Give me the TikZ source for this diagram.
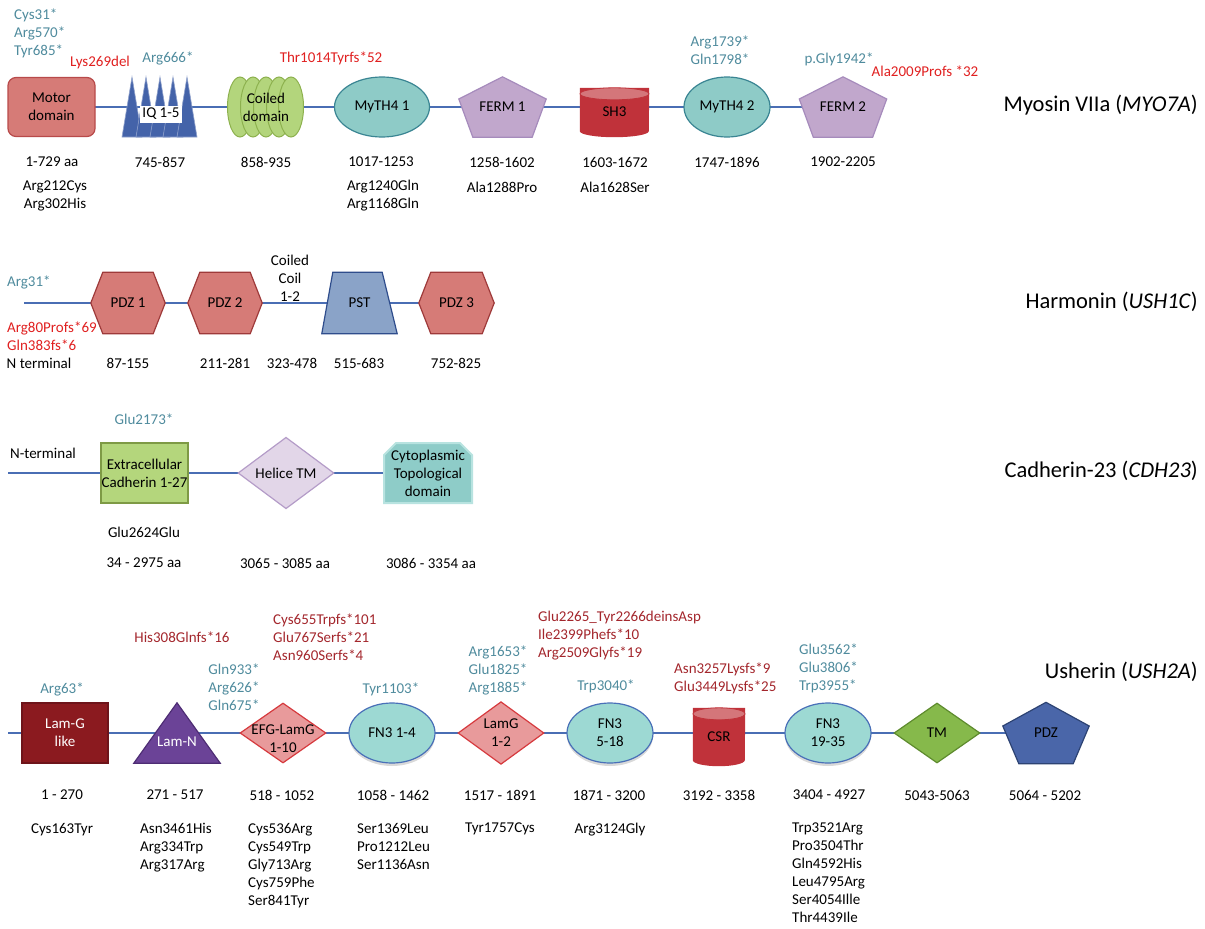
\documentclass[tikz,border=0pt]{standalone}
\usepackage{fontspec}
\setmainfont{Carlito}
\usetikzlibrary{shapes.geometric,shapes.misc,shadows}
\pgfdeclarelayer{background}
\pgfdeclarelayer{shape}
\pgfsetlayers{background,shape,main}
\definecolor{spinec}{HTML}{4A6EB4}
\definecolor{motorf}{HTML}{D67B77}
\definecolor{motord}{HTML}{B84A4A}
\definecolor{iqblue}{HTML}{4463A9}
\definecolor{coilf}{HTML}{B3D57C}
\definecolor{coild}{HTML}{8DB14E}
\definecolor{mythf}{HTML}{8ECBC7}
\definecolor{mythd}{HTML}{3A8593}
\definecolor{fermf}{HTML}{C1A7CC}
\definecolor{fermd}{HTML}{A68BBC}
\definecolor{cylf}{HTML}{C0323A}
\definecolor{cyltop}{HTML}{D4767A}
\definecolor{pdzf}{HTML}{D67B77}
\definecolor{pdzd}{HTML}{9E3A3A}
\definecolor{pstf}{HTML}{8AA3C8}
\definecolor{pstd}{HTML}{2F4D8C}
\definecolor{cadf}{HTML}{B4D67C}
\definecolor{cadd}{HTML}{7E9A45}
\definecolor{helixf}{HTML}{E2D6E8}
\definecolor{helixd}{HTML}{B49CC8}
\definecolor{cytof}{HTML}{8ECCC8}
\definecolor{cytod}{HTML}{B8E3E0}
\definecolor{lamgf}{HTML}{8B1A1F}
\definecolor{lamgd}{HTML}{6E141A}
\definecolor{lamnf}{HTML}{6B4397}
\definecolor{lamnd}{HTML}{4E2D74}
\definecolor{efgf}{HTML}{E89A9B}
\definecolor{efgd}{HTML}{D63A3E}
\definecolor{fnf}{HTML}{9DD9D3}
\definecolor{fnd}{HTML}{4A70B8}
\definecolor{tmf}{HTML}{86B94B}
\definecolor{tmd}{HTML}{5E8B2E}
\definecolor{pdzbf}{HTML}{4A66A9}
\definecolor{pdzbd}{HTML}{2D4373}
\definecolor{nonsc}{HTML}{4F8B9D}
\definecolor{fsredc}{HTML}{E02020}
\definecolor{fsdarkc}{HTML}{A3262C}
\tikzset{
  every node/.style={font=\fontsize{15}{18}\selectfont, inner sep=0pt},
  spine/.style={draw=spinec, line width=2.2pt},
  dom/.style={line width=1.2pt},
  blank/.style 2 args={minimum width=#1, minimum height=#2},
  nons/.style={text=nonsc},
  fsr/.style={text=fsredc},
  fsd/.style={text=fsdarkc},
  gene/.style={font=\fontsize{22.5}{27}\selectfont, anchor=east},
  fn3/.style={dom, ellipse, draw=fnd, fill=fnf, minimum width=86pt, minimum height=60pt, align=center,
    drop shadow={opacity=.3, shadow xshift=0pt, shadow yshift=-3pt}},
  lamdiam/.style={dom, diamond, draw=efgd, fill=efgf, minimum width=86pt, minimum height=60pt, align=center}
}
\begin{document}
\begin{tikzpicture}[x=1pt, y=-1pt]
\useasboundingbox (0,0) rectangle (1205,929);

\node[dom, rounded corners=8pt, draw=motord, fill=motorf, minimum width=87pt, minimum height=59pt, align=center] (motor) at (51.5,107) {Motor\\domain};
\node[blank={74pt}{60pt}] (iq) at (160,107) {};
\node[fill=white, minimum width=42pt, minimum height=17pt] (iqt) at (161,114) {IQ 1-5};
\node[blank={76pt}{60pt}, align=center] (coil) at (266,107) {Coiled\\domain};
\node[dom, ellipse, draw=mythd, fill=mythf, minimum width=95pt, minimum height=60pt] (myth1) at (382,107) {MyTH4 1};
\node[blank={87pt}{60pt}] (ferm1) at (502.5,107) {FERM 1};
\node[blank={69pt}{60pt}] (sh3) at (614.5,107) {};
\node (sh3t) at (614.5,112) {SH3};
\node[dom, ellipse, draw=mythd, fill=mythf, minimum width=86pt, minimum height=60pt] (myth2) at (727,107) {MyTH4 2};
\node[blank={87pt}{60pt}] (ferm2) at (843,107) {FERM 2};

\node[nons, anchor=west, align=left] (m1a) at (14,33) {Cys31*\\Arg570*\\Tyr685*};
\node[fsr] (m1b) at (100,62) {Lys269del};
\node[nons] (m1c) at (168,58) {Arg666*};
\node[fsr] (m1d) at (331,58) {Thr1014Tyrfs*52};
\node[nons, align=center] (m1e) at (720,50) {Arg1739*\\Gln1798*};
\node[nons] (m1f) at (839,59) {p.Gly1942*};
\node[fsr] (m1g) at (925,71) {Ala2009Profs *32};
\foreach \x/\t [count=\i] in {52/1-729 aa, 160/745-857, 266/858-935, 381/1017-1253, 502/1258-1602, 615/1603-1672, 727/1747-1896, 843/1902-2205}
  \node (r1-\i) at (\x,162) {\t};
\node[align=center] (v1a) at (55,196) {Arg212Cys\\Arg302His};
\node[align=center] (v1b) at (383,196) {Arg1240Gln\\Arg1168Gln};
\node (v1c) at (502,187) {Ala1288Pro};
\node (v1d) at (615,187) {Ala1628Ser};
\node[gene] (t1) at (1198,105) {Myosin VIIa (\textit{MYO7A})};

\coordinate (hstart) at (24,303);
\node[blank={74pt}{61pt}] (pdz1) at (128,303) {PDZ 1};
\node[blank={74pt}{61pt}] (pdz2) at (225,303) {PDZ 2};
\node[blank={75pt}{61pt}] (pst) at (359.5,303) {PST};
\node[blank={75pt}{61pt}] (pdz3) at (456.5,303) {PDZ 3};
\node[nons, anchor=west] (h1) at (7,282) {Arg31*};
\node[fsr, anchor=west, align=left] (h2) at (7,336) {Arg80Profs*69\\Gln383fs*6};
\node (h3) at (39,363) {N terminal};
\node[align=center] (h4) at (290,278) {Coiled\\Coil\\1-2};
\foreach \x/\t [count=\i] in {128/87-155, 225/211-281, 292/323-478, 359/515-683, 456/752-825}
  \node (r2-\i) at (\x,363) {\t};
\node[gene] (t2) at (1198,302) {Harmonin (\textit{USH1C})};

\coordinate (cstart) at (8,473);
\node[dom, draw=cadd, fill=cadf, minimum width=87pt, minimum height=60pt, align=center] (cad) at (144.5,473) {Extracellular\\Cadherin 1-27};
\node[dom, diamond, draw=helixd, fill=helixf, minimum width=96pt, minimum height=70pt] (helix) at (286,473) {Helice TM};
\node[chamfered rectangle, chamfered rectangle corners={north west, north east}, chamfered rectangle xsep=6pt, chamfered rectangle ysep=6pt,
  draw=cytod, fill=cytof, line width=2pt, minimum width=88pt, minimum height=60pt, align=center] (cyto) at (428,473) {Cytoplasmic\\Topological\\domain};
\node (c1) at (43,453) {N-terminal};
\node[nons] (c2) at (144,419) {Glu2173*};
\node (c3) at (144,532) {Glu2624Glu};
\foreach \x/\t [count=\i] in {144/34 - 2975 aa, 285/3065 - 3085 aa, 431/3086 - 3354 aa}
  \node (r3-\i) at (\x,563) {\t};
\node[gene] (t3) at (1198,471) {Cadherin-23 (\textit{CDH23})};

\coordinate (ustart) at (8,733);
\node[dom, draw=lamgd, fill=lamgf, text=white, minimum width=86pt, minimum height=60pt, align=center] (lamg) at (65,733) {Lam-G\\like};
\node[blank={86pt}{60pt}] (lamn) at (177,733) {};
\node[text=white] (lamnt) at (177,742) {Lam-N};
\node[lamdiam] (efg) at (283,733) {};
\node[align=center] (efgt) at (283,739) {EFG-LamG\\1-10};
\node[fn3] (fn31) at (392,733) {FN3 1-4};
\node[lamdiam] (lamg12) at (501,733) {LamG\\1-2};
\node[fn3] (fn32) at (610,733) {FN3\\5-18};
\node[blank={52pt}{66pt}] (csr) at (719,733) {};
\node (csrt) at (719,737) {CSR};
\node[fn3] (fn33) at (828,733) {FN3\\19-35};
\node[dom, diamond, draw=tmd, fill=tmf, minimum width=86pt, minimum height=60pt] (tm) at (937,733) {TM};
\node[blank={86pt}{61pt}] (pdz) at (1046,733) {PDZ};

\node[nons] (u1) at (62,689) {Arg63*};
\node[fsd] (u2) at (182,637) {His308Glnfs*16};
\node[nons, align=center] (u3) at (234,687) {Gln933*\\Arg626*\\Gln675*};
\node[fsd, anchor=west, align=left] (u4) at (273,637) {Cys655Trpfs*101\\Glu767Serfs*21\\Asn960Serfs*4};
\node[nons] (u5) at (391,689) {Tyr1103*};
\node[nons, align=center] (u6) at (498,670) {Arg1653*\\Glu1825*\\Arg1885*};
\node[fsd, anchor=west, align=left] (u7) at (538,636) {Glu2265\_Tyr2266deinsAsp\\Ile2399Phefs*10\\Arg2509Glyfs*19};
\node[nons] (u8) at (606,686) {Trp3040*};
\node[fsd, anchor=west, align=left] (u9) at (674,678) {Asn3257Lysfs*9\\Glu3449Lysfs*25};
\node[nons, anchor=west, align=left] (u10) at (799,668) {Glu3562*\\Glu3806*\\Trp3955*};
\foreach \x/\t [count=\i] in {62/1 - 270, 175/271 - 517, 282/518 - 1052, 393/1058 - 1462, 500/1517 - 1891, 609/1871 - 3200, 719/3192 - 3358, 829/3404 - 4927, 937/5043-5063, 1045/5064 - 5202}
  \node (r4-\i) at (\x,795) {\t};
\node[anchor=north] (v4a) at (62,823) {Cys163Tyr};
\node[anchor=north west, align=left] (v4b) at (140,823) {Asn3461His\\Arg334Trp\\Arg317Arg};
\node[anchor=north west, align=left] (v4c) at (248,823) {Cys536Arg\\Cys549Trp\\Gly713Arg\\Cys759Phe\\Ser841Tyr};
\node[anchor=north west, align=left] (v4d) at (357,823) {Ser1369Leu\\Pro1212Leu\\Ser1136Asn};
\node[anchor=north] (v4e) at (500,823) {Tyr1757Cys};
\node[anchor=north] (v4f) at (610,823) {Arg3124Gly};
\node[anchor=north west, align=left] (v4g) at (792,823) {Trp3521Arg\\Pro3504Thr\\Gln4592His\\Leu4795Arg\\Ser4054Ille\\Thr4439Ile};
\node[gene] (t4) at (1198,672) {Usherin (\textit{USH2A})};

\begin{pgfonlayer}{shape}
\foreach \x in {132,146,160,173,187}
  \filldraw[fill=iqblue, draw=iqblue!60!white, line width=.6pt] (\x-10,137) -- (\x,77) -- (\x+10,137) -- cycle;
\foreach \x in {240,253,266,279,291}
  \filldraw[fill=coilf, draw=coild, line width=1pt] (\x,107) ellipse [x radius=12.5pt, y radius=30pt];
\foreach \n in {ferm1,ferm2}
  \filldraw[dom, fill=fermf, draw=fermd] (\n.north) -- ([yshift=8pt]\n.east) -- ([xshift=-14pt]\n.south east)
    -- ([xshift=14pt]\n.south west) -- ([yshift=8pt]\n.west) -- cycle;
\filldraw[dom, fill=pdzbf, draw=pdzbd] (pdz.north) -- ([yshift=7pt]pdz.east) -- ([xshift=-16pt]pdz.south east)
  -- ([xshift=16pt]pdz.south west) -- ([yshift=7pt]pdz.west) -- cycle;
\foreach \n/\r/\s in {sh3/34.5pt/11pt, csr/26pt/8pt} {
  \fill[cylf] ([yshift=-\s]\n.north west) -- ([yshift=6pt]\n.south west)
    arc[start angle=180, end angle=360, x radius=\r, y radius=6pt] -- ([yshift=-\s]\n.north east) -- cycle;
  \filldraw[fill=cyltop, draw=cylf, line width=.8pt] ([yshift=-\s-6pt]\n.north) ellipse [x radius=\r, y radius=6pt];
}
\foreach \n in {pdz1,pdz2,pdz3}
  \filldraw[dom, fill=pdzf, draw=pdzd] (\n.west) -- ([xshift=12pt]\n.north west) -- ([xshift=-12pt]\n.north east)
    -- (\n.east) -- ([xshift=-12pt]\n.south east) -- ([xshift=12pt]\n.south west) -- cycle;
\filldraw[dom, fill=pstf, draw=pstd] ([xshift=11pt]pst.north west) -- ([xshift=-15pt]pst.north east) -- (pst.south east) -- (pst.south west) -- cycle;
\filldraw[dom, fill=lamnf, draw=lamnd] (lamn.south west) -- (lamn.north) -- (lamn.south east) -- cycle;
\end{pgfonlayer}

\begin{pgfonlayer}{background}
\draw[spine] (motor.center) -- (iq.center) -- (coil.center) -- (myth1.center) -- (ferm1.center) -- (sh3.center) -- (myth2.center) -- (ferm2.center);
\draw[spine] (hstart) -- (pdz1.center) -- (pdz2.center) -- (pst.center) -- (pdz3.center);
\draw[spine] (cstart) -- (cad.center) -- (helix.center) -- (cyto.center);
\draw[spine] (ustart) -- (lamg.center) -- (lamn.center) -- (efg.center) -- (fn31.center) -- (lamg12.center) -- (fn32.center) -- (csr.center) -- (fn33.center) -- (tm.center) -- (pdz.center);
\end{pgfonlayer}
\end{tikzpicture}
\end{document}
